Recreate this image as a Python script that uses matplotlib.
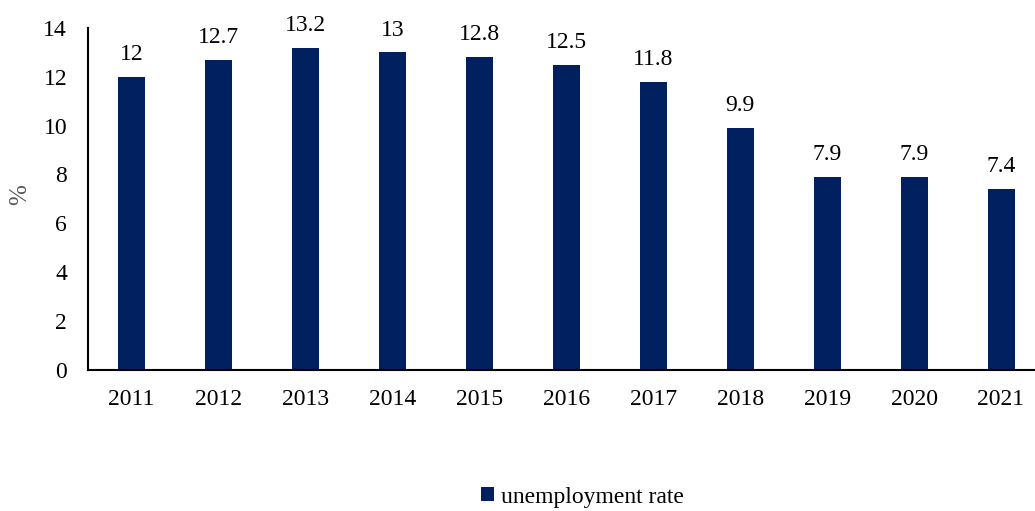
import matplotlib.pyplot as plt
import numpy as np

# Unemployment rate by year, percent
years = ["2011", "2012", "2013", "2014", "2015", "2016", "2017", "2018", "2019", "2020", "2021"]
unemployment_rate = [12, 12.7, 13.2, 13, 12.8, 12.5, 11.8, 9.9, 7.9, 7.9, 7.4]

BAR_COLOR = "#002060"
W, H = 1035, 511
FS = 17

plt.rcParams["font.family"] = ["Liberation Serif", "DejaVu Serif"]

fig = plt.figure(figsize=(W / 100, H / 100), dpi=100)
# axes box in pixel terms; the right edge runs past the figure edge
left, right, top, bottom = 88, 1044.5, 28, 369.5
ax = fig.add_axes([left / W, 1 - bottom / H, (right - left) / W, (bottom - top) / H])

x = np.arange(len(years))
bars = ax.bar(x, unemployment_rate, width=0.31, color=BAR_COLOR, label="unemployment rate", zorder=2)

for xi, v in zip(x, unemployment_rate):
    ax.annotate(f"{v:g}", (xi, v), xytext=(0, 8.5), textcoords="offset points",
                ha="center", va="bottom", fontsize=FS, color="#000000")

ax.set_xlim(-0.5, len(years) - 0.5)
ax.set_ylim(0, 14)
ax.set_yticks(range(0, 15, 2))
ax.set_xticks(x)
ax.set_xticklabels(years)
ax.tick_params(axis="both", length=0, labelsize=FS, colors="#000000")
ax.tick_params(axis="y", pad=15)
ax.tick_params(axis="x", pad=14)

for side in ("top", "right"):
    ax.spines[side].set_visible(False)
for side in ("left", "bottom"):
    ax.spines[side].set_linewidth(1.5)
    ax.spines[side].set_color("#000000")

fig.text(20 / W, 1 - 195 / H, "%", rotation=90, ha="center", va="center",
         fontsize=FS + 1, color="#595959")

fig.legend(handles=[bars], labels=["unemployment rate"], loc="center",
           bbox_to_anchor=(582 / W, 1 - 497 / H), frameon=False, fontsize=FS,
           handlelength=0.55, handleheight=0.55, handletextpad=0.3)

fig.savefig("out.png", dpi=100)
